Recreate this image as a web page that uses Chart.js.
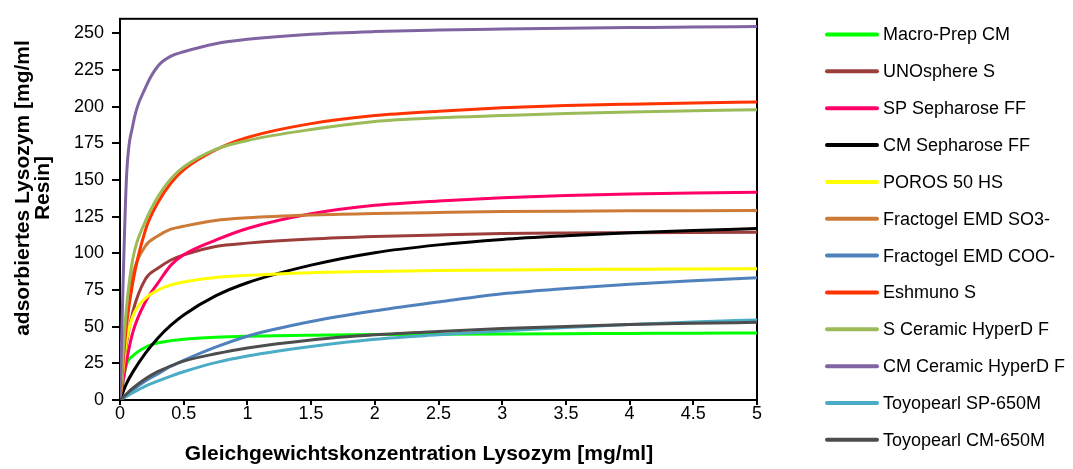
<!DOCTYPE html>
<html>
<head>
<meta charset="utf-8">
<title>Lysozym Isothermen</title>
<script src="https://cdn.jsdelivr.net/npm/chart.js@4.4.0/dist/chart.umd.min.js"></script>
<style>
  html, body { margin: 0; padding: 0; background: #fff; }
  #wrap { position: relative; width: 1073px; height: 469px; }
</style>
</head>
<body>
<div id="wrap"><canvas id="isothermChart"></canvas></div>
<script>
"use strict";

// equilibrium concentration [mg/ml]
const concentration = [0, 0.05, 0.1, 0.2, 0.3, 0.4, 0.5, 0.75, 1, 1.5, 2, 2.5, 3, 3.5, 4, 4.5, 5];

// adsorbed lysozyme [mg/ml resin], one array per resin
const macroPrepCM      = [0, 24, 30, 36, 39, 40.5, 41.5, 42.8, 43.5, 44.2, 44.6, 44.8, 45, 45.2, 45.4, 45.6, 45.7];
const unosphereS       = [0, 38, 60, 82.5, 90, 95.5, 99, 104.7, 107, 109.8, 111.5, 112.6, 113.5, 113.9, 114.1, 114.3, 114.5];
const spSepharoseFF    = [0, 26, 46, 67, 80, 92, 99, 109, 117, 127, 132.8, 135.8, 138, 139.5, 140.5, 141.2, 141.7];
const cmSepharoseFF    = [0, 11, 19, 32, 42.5, 51, 58, 71, 80, 92, 100.5, 105.8, 109.5, 112, 114, 115.6, 117];
const poros50HS        = [0, 40, 57, 69.5, 75, 78.5, 80.5, 83.5, 85, 86.8, 87.7, 88.3, 88.7, 89, 89.2, 89.4, 89.6];
const fractogelSO3     = [0, 58, 85, 105, 112, 116.5, 118.5, 122.5, 124.3, 126.2, 127.2, 127.9, 128.5, 128.8, 129, 129.1, 129.2];
const fractogelCOO     = [0, 3.5, 7, 13, 18, 23, 27, 36, 43.5, 53.5, 60.8, 66.8, 72.5, 76, 79, 81.3, 83.3];
const eshmunoS         = [0, 50, 80, 116, 135, 148, 157, 170.5, 179, 188.5, 194, 197, 199.3, 200.8, 201.8, 202.6, 203.2];
const sCeramicHyperD   = [0, 62, 96, 122, 139, 151, 159, 171, 177, 184.5, 190, 192.5, 194, 195.4, 196.5, 197.3, 198];
const cmCeramicHyperD  = [0, 150, 187, 213, 228, 234.5, 237.5, 243, 246, 249.5, 251.3, 252.3, 253, 253.6, 254, 254.4, 254.7];
const toyopearlSP650M  = [0, 2.5, 5, 9.5, 13, 16.3, 19.3, 25.5, 30, 36.5, 41.5, 44.5, 47, 49.5, 51.5, 53.2, 54.6];
const toyopearlCM650M  = [0, 4, 8, 14.5, 19.5, 23.3, 26.5, 31.5, 35.5, 41, 44.5, 46.8, 48.7, 50.2, 51.5, 52.3, 53];

const seriesNames = [
    'Macro-Prep CM', 'UNOsphere S', 'SP Sepharose FF', 'CM Sepharose FF',
    'POROS 50 HS', 'Fractogel EMD SO3-', 'Fractogel EMD COO-', 'Eshmuno S',
    'S Ceramic HyperD F', 'CM Ceramic HyperD F', 'Toyopearl SP-650M', 'Toyopearl CM-650M'
];
const seriesValues = [
    macroPrepCM, unosphereS, spSepharoseFF, cmSepharoseFF,
    poros50HS, fractogelSO3, fractogelCOO, eshmunoS,
    sCeramicHyperD, cmCeramicHyperD, toyopearlSP650M, toyopearlCM650M
];
const seriesColors = [
    '#00FF00', '#9B3D3A', '#FF0066', '#000000',
    '#FFFF00', '#CC7A36', '#4F81BD', '#FF3300',
    '#9BBB59', '#8064A2', '#4BACC6', '#4D4D4D'
];

// tick labels on both axes
const xTickValues = [0, 0.5, 1, 1.5, 2, 2.5, 3, 3.5, 4, 4.5, 5];
const yTickValues = [0, 25, 50, 75, 100, 125, 150, 175, 200, 225, 250];

const xTitle = 'Gleichgewichtskonzentration Lysozym [mg/ml]';
const yTitle = ['adsorbiertes Lysozym [mg/ml', 'Resin]'];

const fontFamily = '"Liberation Sans", Arial, sans-serif';
Chart.defaults.font.family = fontFamily;
Chart.defaults.color = '#000';

const datasets = seriesNames.map((name, i) => ({
    label: name,
    data: concentration.map((c, k) => ({ x: c, y: seriesValues[i][k] })),
    borderColor: seriesColors[i],
    backgroundColor: seriesColors[i],
    borderWidth: 3,
    borderCapStyle: 'round',
    borderJoinStyle: 'round',
    pointRadius: 0,
    fill: false,
    cubicInterpolationMode: 'monotone',
    order: -i   // later series on top
}));

// black box around the plot area
const plotFrame = {
    id: 'plotFrame',
    beforeDatasetsDraw(chart) {
        const { ctx, chartArea: a } = chart;
        ctx.save();
        ctx.strokeStyle = '#000';
        ctx.lineWidth = 2;
        ctx.strokeRect(a.left, a.top, a.right - a.left, a.bottom - a.top);
        ctx.restore();
    }
};

// axis titles
const axisTitles = {
    id: 'axisTitles',
    afterDraw(chart) {
        const ctx = chart.ctx;
        ctx.save();
        ctx.fillStyle = '#000';
        ctx.font = 'bold 21px ' + fontFamily;
        ctx.textAlign = 'center';
        ctx.textBaseline = 'middle';
        ctx.fillText(xTitle, 419, 454);
        ctx.translate(33, 188);
        ctx.rotate(-Math.PI / 2);
        ctx.fillText(yTitle[0], 0, -10);
        ctx.fillText(yTitle[1], 0, 10);
        ctx.restore();
    }
};

// legend on the right, one row per resin
const sideLegend = {
    id: 'sideLegend',
    afterDraw(chart) {
        const ctx = chart.ctx;
        ctx.save();
        ctx.font = '18px ' + fontFamily;
        ctx.textBaseline = 'middle';
        chart.data.datasets.forEach((ds, i) => {
            const y = 34.5 + i * 36.85;
            ctx.strokeStyle = ds.borderColor;
            ctx.lineWidth = 4;
            ctx.lineCap = 'round';
            ctx.beginPath();
            ctx.moveTo(827, y);
            ctx.lineTo(877, y);
            ctx.stroke();
            ctx.fillStyle = '#000';
            ctx.fillText(ds.label, 883, y + 1);
        });
        ctx.restore();
    }
};

const config = {
    type: 'line',
    data: { datasets: datasets },
    options: {
        responsive: true,
        maintainAspectRatio: false,
        animation: false,
        devicePixelRatio: 1,
        layout: { padding: { left: 0, top: 11, right: 316, bottom: 0 } },
        plugins: {
            legend: { display: false },
            tooltip: { enabled: false },
            title: { display: false }
        },
        scales: {
            x: {
                type: 'linear',
                min: 0,
                max: 5,
                afterFit(scale) { scale.height = 69; },
                afterBuildTicks(scale) {
                    scale.ticks = xTickValues.map(v => ({ value: v }));
                },
                ticks: {
                    autoSkip: false,
                    maxRotation: 0,
                    padding: -2,
                    color: '#000',
                    font: { size: 18 },
                    callback: value => String(value)
                },
                grid: { drawOnChartArea: false, tickLength: 5, color: '#000', lineWidth: 2 },
                border: { display: false }
            },
            y: {
                min: 0,
                max: 260,
                afterFit(scale) { scale.width = 120; },
                afterBuildTicks(scale) {
                    scale.ticks = yTickValues.map(v => ({ value: v }));
                },
                ticks: {
                    padding: 8,
                    color: '#000',
                    font: { size: 18 },
                    callback: value => String(value)
                },
                grid: { drawOnChartArea: false, tickLength: 8, color: '#000', lineWidth: 2 },
                border: { display: false }
            }
        }
    },
    plugins: [plotFrame, axisTitles, sideLegend]
};

const isothermChart = new Chart(document.getElementById('isothermChart'), config);
</script>
</body>
</html>
